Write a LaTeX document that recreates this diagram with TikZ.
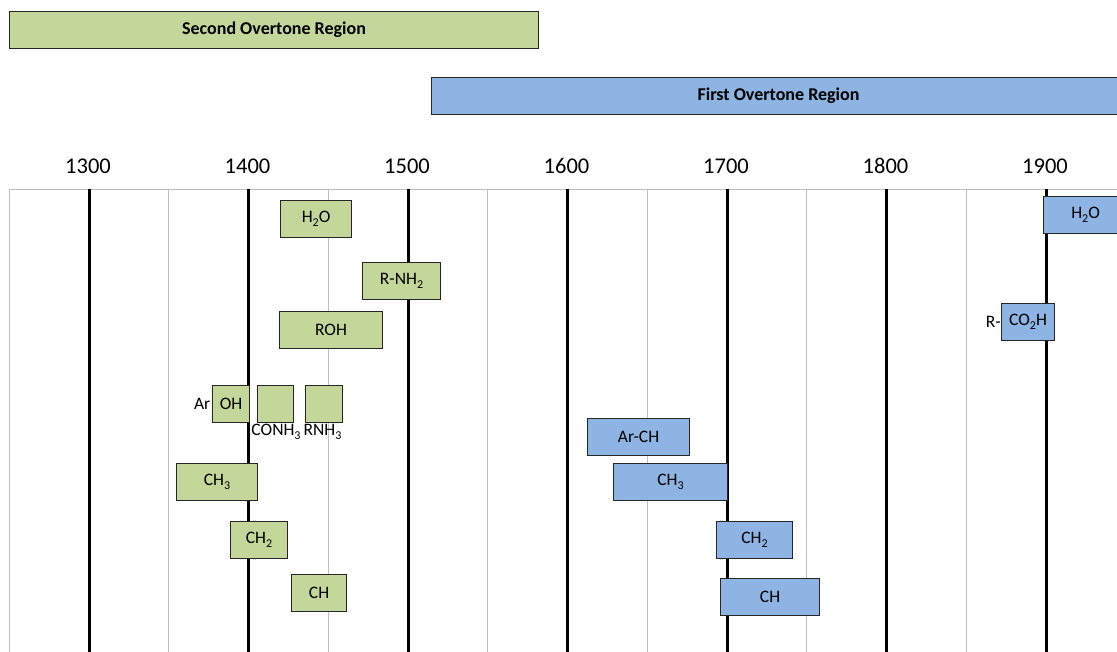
\documentclass[tikz,border=0pt]{standalone}
\usepackage{fontspec}
\setmainfont{Carlito}
\definecolor{gfill}{HTML}{C4D79B}
\definecolor{bfill}{HTML}{8DB4E2}
\definecolor{minorgrid}{HTML}{BFBFBF}
\newcommand{\mysubscr}[1]{\raisebox{-0.45ex}{\fontsize{12}{12}\selectfont #1}}
\begin{document}
\begin{tikzpicture}[x=1pt,y=-1pt,
  box/.style={draw=black!85, line width=1.1pt, inner sep=0pt, anchor=north west,
    font=\fontsize{17.5}{20}\selectfont},
  gbox/.style={box, fill=gfill},
  bbox/.style={box, fill=bfill},
  title/.style={font=\fontsize{18}{20}\selectfont\bfseries},
  tick/.style={font=\fontsize{22.5}{24}\selectfont},
  lbl/.style={font=\fontsize{17.5}{20}\selectfont, inner sep=0pt},
  major/.style={line width=3pt, black},
  minor/.style={line width=0.9pt, minorgrid},
]
\useasboundingbox (0,0) rectangle (1117,652);
\clip (0,0) rectangle (1117,652);
\fill[white] (0,0) rectangle (1117,652);

% grid
\coordinate (gridTL) at (9,189);
\coordinate (gridTR) at (1117,189);
\coordinate (gridBL) at (9,652);
\draw[minor] (gridTL) -- (gridTR);
\draw[minor] (gridTL) -- (gridBL);
\foreach \x in {168.5,328,487.5,647,806.5,966} {
  \draw[minor] (\x,189) -- (\x,652);
}
\foreach \x/\v in {89/1300,248.5/1400,408/1500,567.5/1600,727/1700,886.5/1800,1046/1900} {
  \draw[major] (\x,189) -- (\x,652);
  \node[tick] at (\x-1,166) {\v};
}

% region bars
\node[gbox, minimum width=529pt, minimum height=37pt] (second) at (9,11) {};
\node[title] at (second.center) {Second Overtone Region};
\node[bbox, minimum width=694pt, minimum height=37pt] (first) at (431,77) {};
\node[title] at (first.center) {First Overtone Region};

% second overtone boxes
\node[gbox, minimum width=71pt, minimum height=37pt] (gH2O) at (280,200) {H\mysubscr{2}O};
\node[gbox, minimum width=78pt, minimum height=37pt] (gRNH2) at (362,262) {R-NH\mysubscr{2}};
\node[gbox, minimum width=103pt, minimum height=37pt] (gROH) at (279,311) {ROH};
\node[gbox, minimum width=37pt, minimum height=37pt] (gArOH) at (212,385) {OH};
\node[lbl, anchor=east] (ArLbl) at (210.5,404) {Ar};
\node[gbox, minimum width=36.5pt, minimum height=37pt] (gCONH3) at (256.5,385) {};
\node[lbl, anchor=north] (CONH3Lbl) at (276,424) {CONH\mysubscr{3}};
\node[gbox, minimum width=37pt, minimum height=37pt] (gRNH3) at (305,385) {};
\node[lbl, anchor=north] (RNH3Lbl) at (322.5,424) {RNH\mysubscr{3}};
\node[gbox, minimum width=81pt, minimum height=37pt] (gCH3) at (176,463) {CH\mysubscr{3}};
\node[gbox, minimum width=57pt, minimum height=37pt] (gCH2) at (230,521) {CH\mysubscr{2}};
\node[gbox, minimum width=55pt, minimum height=37pt] (gCH) at (291,574) {CH};

% first overtone boxes
\node[bbox, minimum width=84pt, minimum height=37pt] (bH2O) at (1043,196) {H\mysubscr{2}O};
\node[bbox, minimum width=53pt, minimum height=37pt] (bCO2H) at (1001,303) {CO\mysubscr{2}H};
\node[lbl, anchor=east] (RLbl) at (1001,322) {R-};
\node[bbox, minimum width=102pt, minimum height=37pt] (bArCH) at (587,418) {Ar-CH};
\node[bbox, minimum width=114pt, minimum height=37pt] (bCH3) at (613,463) {CH\mysubscr{3}};
\node[bbox, minimum width=76pt, minimum height=37pt] (bCH2) at (716,521) {CH\mysubscr{2}};
\node[bbox, minimum width=99pt, minimum height=37pt] (bCH) at (720,578) {CH};
\end{tikzpicture}
\end{document}
